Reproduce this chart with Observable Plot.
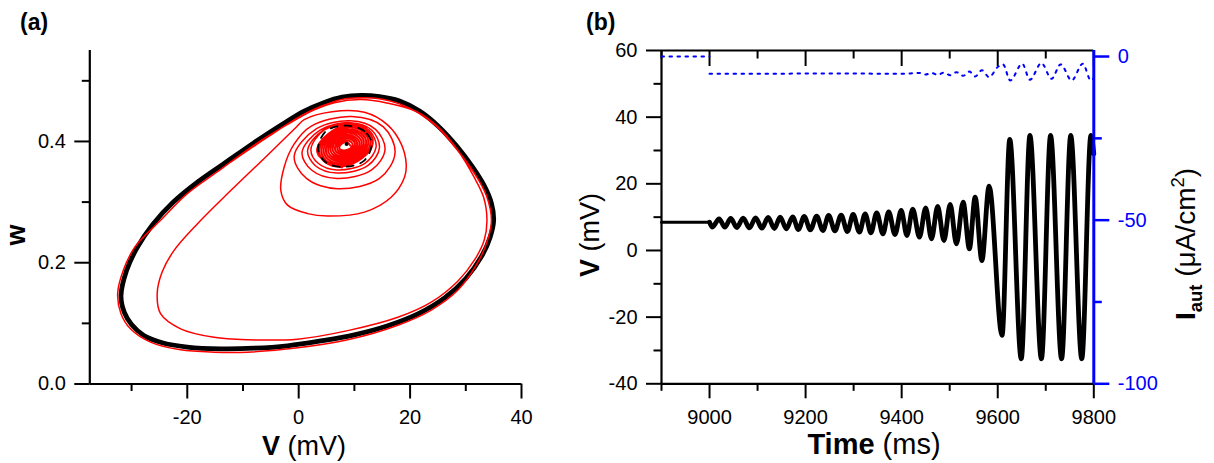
<!DOCTYPE html>
<html><head><meta charset="utf-8">
<script src="https://cdn.jsdelivr.net/npm/d3@7"></script>
<script src="https://cdn.jsdelivr.net/npm/@observablehq/plot@0.6"></script>
<style>
body{margin:0;background:#fff;}
#wrap{position:relative;width:1214px;height:463px;overflow:hidden;background:#fff;}
#wrap > svg{position:absolute;top:0;}
</style></head><body><div id="wrap"></div>
<script>
// ---------- Panel (a): phase plane (V, w) ----------
const limitCycle = [
[-31.9,0.145],[-31.3,0.118],[-30.0,0.098],[-27.8,0.080],[-24.5,0.068],[-20.0,0.061],[-14.0,0.058],[-8.0,0.059],[-2.0,0.063],[4.0,0.071],[10.0,0.081],[16.0,0.096],[21.5,0.116],[26.2,0.142],[30.0,0.174],[32.8,0.210],[34.4,0.243],[35.0,0.270],[34.6,0.298],[33.3,0.327],[31.2,0.358],[28.4,0.392],[25.2,0.424],[21.7,0.450],[18.0,0.467],[14.5,0.474],[11.2,0.476],[7.8,0.473],[4.5,0.464],[1.0,0.450],[-3.0,0.428],[-8.0,0.398],[-13.0,0.366],[-18.0,0.334],[-22.5,0.300],[-26.2,0.263],[-29.0,0.225],[-30.9,0.187]
];
const blobLoops = [
[9.3,0.393],[8.4,0.399],[7.3,0.391],[8.2,0.385],
[9.7,0.3935],[8.44,0.402],[6.9,0.3905],[8.16,0.382],
[10.1,0.394],[8.48,0.405],[6.5,0.390],[8.12,0.379],
[10.5,0.3944],[8.52,0.408],[6.1,0.3896],[8.08,0.376],
[10.9,0.3948],[8.56,0.411],[5.7,0.3892],[8.04,0.373],
[11.3,0.3953],[8.6,0.414],[5.3,0.3887],[8.0,0.370],
[11.7,0.3958],[8.64,0.417],[4.9,0.3882],[7.96,0.367],
[12.1,0.3962],[8.68,0.420],[4.5,0.3878],[7.92,0.364],
[12.5,0.3967],[8.72,0.423],[4.1,0.3873],[7.88,0.361],
[12.9,0.397],[8.76,0.425],[3.7,0.387],[7.84,0.359],
[13.3,0.397],[8.8,0.427],[3.3,0.387],[7.8,0.357]
];
const unstableRing = [[13.1,0.397],[11.8,0.417],[8.8,0.426],[4.9,0.417],[3.5,0.387],[4.8,0.366],[7.8,0.358],[11.7,0.368]];
const fixedPoint = [[8.6,0.396]];
const spiral = [
[8.8,0.427],[4.6,0.419],
[2.2,0.387],[3.5,0.364],[6.85,0.353],[11.9,0.364],[13.9,0.391],[12.7,0.418],[9.25,0.429],[4.3,0.418],
[1.6,0.385],[3.0,0.360],[6.85,0.348],[12.4,0.360],[14.5,0.3895],[13.1,0.419],[9.25,0.431],[3.9,0.419],
[0.6,0.382],[2.3,0.353],[6.85,0.339],[13.1,0.353],[15.5,0.3865],[13.8,0.420],[9.25,0.434],[3.2,0.421],
[-0.8,0.376],[1.4,0.339],[7.0,0.322],[14.5,0.339],[17.3,0.3815],[15.2,0.424],[9.5,0.441],[2.2,0.425],
[-0.8,0.396],[-2.6,0.358],[-3.2,0.319],[-2.0,0.295],[1.6,0.281],[5.2,0.277],[11.8,0.2835],[16.6,0.308],[19.0,0.341],[19.3,0.363],[18.4,0.396],[16.0,0.427],[11.8,0.448],[6.0,0.449],[1.0,0.436],[-0.5,0.423],
[-6.2,0.372],[-12.2,0.319],[-18.2,0.264],[-22.4,0.220],[-24.5,0.185],[-25.4,0.149],[-24.8,0.116],[-21.2,0.091],[-15.2,0.077],[-9.2,0.073],[-0.2,0.074],[8.8,0.088],[17.8,0.110],[23.8,0.135],[28.6,0.170],[31.6,0.205],[33.3,0.237],[33.8,0.27],[33.2,0.308],[31.5,0.341],[28.6,0.385],[25.0,0.424],[21.2,0.449],[16.0,0.463],[11.2,0.469],[6.4,0.464],[2.8,0.452],[-2.0,0.428],[-8.0,0.394],[-14.0,0.354],[-20.0,0.314],[-24.8,0.270],[-29.4,0.226],[-31.5,0.187],[-32.5,0.149],[-31.9,0.116],[-30.2,0.091],[-26.6,0.069],[-21.2,0.0564],[-15.2,0.0525],[-9.2,0.0525],[-0.2,0.0597],[8.8,0.073],[17.8,0.097],[23.8,0.122],[28.6,0.155],[32.0,0.198],[33.9,0.237],[34.6,0.27],[33.7,0.311],[31.6,0.347],[28.3,0.388],[24.7,0.425],[21.7,0.446],[18.1,0.462],[14.8,0.470],[11.2,0.472],[7.6,0.469],[4.0,0.458],[-0.2,0.439],[-5.6,0.407],[-12.2,0.366]
];
const aXMajor = [-20, 0, 20, 40];
const aXMinor = [-30, -10, 10, 30];
const aYMajor = [0, 0.2, 0.4];
const aYMinor = [0.1, 0.3, 0.5];

// ---------- Panel (b): time series ----------
const restT = [8900, 9000];
const restV = [8.5, 8.5];
const vTroughT = [9006, 9032, 9057, 9083, 9109, 9135, 9160, 9185, 9210, 9236, 9261, 9287, 9312, 9336, 9361, 9386, 9411, 9437, 9462, 9488, 9514, 9541, 9567, 9609, 9649, 9691, 9733, 9775];
const vTroughV = [7.0, 7.0, 6.9, 6.8, 6.7, 6.6, 6.5, 6.3, 6.2, 6.0, 5.9, 5.7, 5.5, 5.3, 5.0, 4.8, 4.5, 4.0, 3.5, 3.0, 2.0, 0.5, -3.0, -25.5, -32.5, -32.5, -32.5, -32.5];
const vPeakT = [9020, 9044, 9070, 9096, 9122, 9147, 9173, 9197, 9223, 9248, 9274, 9299, 9324, 9348, 9373, 9399, 9423, 9450, 9475, 9501, 9528, 9553, 9582, 9625, 9667, 9710, 9752, 9794];
const vPeakV = [9.5, 9.6, 9.7, 9.8, 9.9, 10.0, 10.1, 10.2, 10.3, 10.5, 10.6, 10.8, 11.0, 11.3, 11.6, 12.0, 12.4, 12.8, 13.2, 13.8, 14.5, 16.0, 19.3, 33.3, 34.5, 34.5, 34.5, 34.5];
const vStart = [9000, 8.5];
const vEnd = [9800, 29];
const iPreT = [8900, 9000];
const iPreV = [0, 0];
const iPostT = [9000, 9100, 9200, 9300, 9400, 9437, 9450, 9462, 9475, 9488, 9501, 9514, 9528, 9541, 9553, 9567, 9582, 9600, 9611, 9626, 9651, 9667, 9691, 9712, 9731, 9754, 9777, 9794, 9800];
const iPostV = [-5.3, -5.3, -5.2, -5.2, -5.3, -5.0, -5.5, -5.0, -5.6, -4.9, -5.7, -4.8, -5.9, -4.6, -6.1, -4.2, -6.3, -3.2, -2.4, -7.3, -2.2, -7.1, -2.0, -6.8, -2.4, -7.3, -2.2, -7.3, -6.5];
const bXMajor = [9000, 9200, 9400, 9600, 9800];
const bXMinor = [8900, 9100, 9300, 9500, 9700];
const bYMajor = [-40, -20, 0, 20, 40, 60];
const bYMinor = [-30, -10, 10, 30, 50];
const iYMajor = [0, -50, -100];
const iYMinor = [-25, -75];

// ---------- build ----------
const FONT = "'Liberation Sans', Arial, Helvetica, sans-serif";
const BLUE = "#0000ff";
const TICKFONT = 20;
const fx = d => d[0], fy = d => d[1];
const blank = () => "";
const num = d => String(d);
const wrap = document.getElementById("wrap");
const baseStyle = {fontFamily: FONT, fontSize: TICKFONT + "px", color: "#000", background: "transparent", overflow: "visible"};

const osc = [vStart];
vTroughT.forEach((t, i) => { osc.push([t, vTroughV[i]]); osc.push([vPeakT[i], vPeakV[i]]); });
osc.push(vEnd);
const rest = restT.map((t, i) => [t, restV[i]]);
const iPre = iPreT.map((t, i) => [t, iPreV[i]]);
const iPost = iPostT.map((t, i) => [t, iPostV[i]]);

const pa = Plot.plot({
  width: 560, height: 463,
  marginLeft: 89.3, marginRight: 39, marginTop: 50, marginBottom: 79.5,
  x: {domain: [-37.5, 40]},
  y: {domain: [0, 0.55]},
  style: baseStyle,
  marks: [
    Plot.line(limitCycle, {x: fx, y: fy, curve: "catmull-rom-closed", stroke: "#000", strokeWidth: 4.8}),
    Plot.line(blobLoops, {x: fx, y: fy, curve: "natural", stroke: "#ff0000", strokeWidth: 2}),
    Plot.line(spiral, {x: fx, y: fy, curve: "catmull-rom", stroke: "#ff0000", strokeWidth: 1.5}),
    Plot.line(unstableRing, {x: fx, y: fy, curve: "catmull-rom-closed", stroke: "#000", strokeWidth: 1.8, strokeDasharray: "7,7"}),
    Plot.dot(fixedPoint, {x: fx, y: fy, r: 2, fill: "#000"}),
    Plot.ruleX([-37.5], {stroke: "#000", strokeWidth: 2.2}),
    Plot.ruleY([0], {stroke: "#000", strokeWidth: 2.2}),
    Plot.axisX({ticks: aXMajor, tickSize: 15, tickPadding: 11, strokeWidth: 2, fontSize: TICKFONT, tickFormat: num, label: null}),
    Plot.axisX({ticks: aXMinor, tickSize: 7.5, strokeWidth: 2, tickFormat: blank, label: null}),
    Plot.axisY({ticks: aYMajor, tickSize: 15, tickPadding: 9, strokeWidth: 2, fontSize: TICKFONT, tickFormat: d3.format(".1f"), label: null}),
    Plot.axisY({ticks: aYMinor, tickSize: 7.5, strokeWidth: 2, tickFormat: blank, label: null})
  ]
});
pa.style.left = "0px";
wrap.appendChild(pa);

const bGeom = {width: 654, height: 463, marginLeft: 101, marginRight: 120.7, marginTop: 50, marginBottom: 79.7};
const pb = Plot.plot({
  ...bGeom,
  x: {domain: [8900, 9800]},
  y: {domain: [-40, 60]},
  style: baseStyle,
  marks: [
    Plot.line(rest, {x: fx, y: fy, stroke: "#000", strokeWidth: 3}),
    Plot.line(osc, {x: fx, y: fy, curve: "monotone-x", stroke: "#000", strokeWidth: 4.8}),
    Plot.ruleX([8900], {stroke: "#000", strokeWidth: 2.2}),
    Plot.ruleY([-40, 60], {stroke: "#000", strokeWidth: 2.2}),
    Plot.axisX({ticks: bXMajor, tickSize: 15, tickPadding: 11, strokeWidth: 2, fontSize: TICKFONT, tickFormat: num, label: null}),
    Plot.axisX({ticks: bXMinor, tickSize: 7.5, strokeWidth: 2, tickFormat: blank, label: null}),
    Plot.axisX({anchor: "top", ticks: bXMajor, tickSize: -15, strokeWidth: 2, tickFormat: blank, label: null}),
    Plot.axisX({anchor: "top", ticks: bXMinor, tickSize: -7.5, strokeWidth: 2, tickFormat: blank, label: null}),
    Plot.axisY({ticks: bYMajor, tickSize: 15, tickPadding: 9, strokeWidth: 2, fontSize: TICKFONT, tickFormat: num, label: null}),
    Plot.axisY({ticks: bYMinor, tickSize: 7.5, strokeWidth: 2, tickFormat: blank, label: null})
  ]
});
pb.style.left = "560px";
wrap.appendChild(pb);

const pc = Plot.plot({
  ...bGeom,
  x: {domain: [8900, 9800], axis: null},
  y: {domain: [-100, 1.84], axis: null},
  style: baseStyle,
  marks: [
    Plot.line(iPre, {x: fx, y: fy, stroke: BLUE, strokeWidth: 2, strokeDasharray: "2.5,5.5"}),
    Plot.line(iPost, {x: fx, y: fy, curve: "monotone-x", stroke: BLUE, strokeWidth: 2, strokeDasharray: "2.5,5.5"}),
    Plot.ruleX([9800], {stroke: BLUE, strokeWidth: 3}),
    Plot.axisY({anchor: "right", ticks: iYMajor, tickSize: 15, tickPadding: 9, strokeWidth: 2.5, fontSize: TICKFONT, color: BLUE, tickFormat: num, label: null}),
    Plot.axisY({anchor: "right", ticks: iYMinor, tickSize: 7.5, strokeWidth: 2.5, color: BLUE, tickFormat: blank, label: null})
  ]
});
pc.style.left = "560px";
wrap.appendChild(pc);

// ---------- titles / labels ----------
const svg = d3.select(wrap).append("svg")
  .attr("width", 1214).attr("height", 463)
  .style("left", "0px").style("pointer-events", "none")
  .attr("font-family", FONT).attr("fill", "#000");
svg.append("text").attr("x", 20).attr("y", 30).attr("font-size", 23).attr("font-weight", "bold").text("(a)");
svg.append("text").attr("x", 586).attr("y", 30).attr("font-size", 23).attr("font-weight", "bold").text("(b)");
const xa = svg.append("text").attr("x", 304).attr("y", 455).attr("font-size", 27).attr("text-anchor", "middle");
xa.append("tspan").attr("font-weight", "bold").text("V");
xa.append("tspan").text(" (mV)");
svg.append("text").attr("transform", "translate(25,235) rotate(-90)").attr("font-size", 27)
  .attr("font-weight", "bold").attr("text-anchor", "middle").text("w");
const xb = svg.append("text").attr("x", 874).attr("y", 454).attr("font-size", 29).attr("text-anchor", "middle");
xb.append("tspan").attr("font-weight", "bold").text("Time");
xb.append("tspan").text(" (ms)");
const yb = svg.append("text").attr("transform", "translate(599,235) rotate(-90)").attr("font-size", 27).attr("text-anchor", "middle");
yb.append("tspan").attr("font-weight", "bold").text("V");
yb.append("tspan").text(" (mV)");
const yr = svg.append("text").attr("transform", "translate(1195,244) rotate(-90)").attr("font-size", 28).attr("text-anchor", "middle");
yr.append("tspan").attr("font-weight", "bold").text("I");
yr.append("tspan").attr("font-weight", "bold").attr("font-size", 18.5).attr("dy", 6.5).text("aut");
yr.append("tspan").attr("dy", -6.5).text(" (\u03bcA/cm");
yr.append("tspan").attr("font-size", 18.5).attr("dy", -11).text("2");
yr.append("tspan").attr("dy", 11).text(")");
</script></body></html>
